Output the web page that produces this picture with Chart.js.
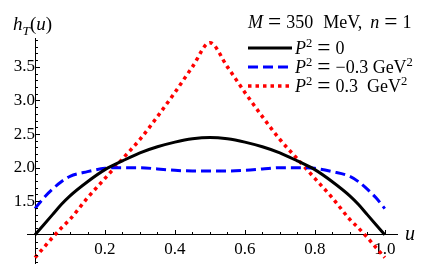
<!DOCTYPE html>
<html>
<head>
<meta charset="utf-8">
<script src="https://cdn.jsdelivr.net/npm/chart.js@4.4.1/dist/chart.umd.min.js"></script>
<style>
  html, body { margin: 0; padding: 0; background: #fff; }
  #wrap { width: 436px; height: 274px; position: relative; }
</style>
</head>
<body>
<div id="wrap"><canvas id="chart"></canvas></div>
<script>
// ========== DATA ==========

const uValues = [0, 0.025, 0.05, 0.075, 0.1, 0.15, 0.2, 0.25, 0.3, 0.35, 0.4, 0.45, 0.5,
                 0.55, 0.6, 0.65, 0.7, 0.75, 0.8, 0.85, 0.9, 0.925, 0.95, 0.975, 1];

// h_T(u) for P^2 = 0, -0.3, +0.3 GeV^2
const hP0   = [1.00, 1.15, 1.30, 1.45, 1.58, 1.79, 1.97, 2.10, 2.22, 2.31, 2.38, 2.43, 2.45,
               2.43, 2.38, 2.31, 2.22, 2.10, 1.97, 1.79, 1.58, 1.45, 1.30, 1.15, 1.00];
const hPneg = [1.39, 1.55, 1.68, 1.79, 1.87, 1.94, 1.99, 2.00, 2.00, 1.98, 1.96, 1.95, 1.95,
               1.95, 1.96, 1.98, 2.00, 2.00, 1.99, 1.94, 1.87, 1.79, 1.68, 1.55, 1.39];
const hPpos = [0.66, 0.81, 0.96, 1.10, 1.23, 1.55, 1.84, 2.13, 2.42, 2.76, 3.12, 3.50, 3.86,
               3.50, 3.12, 2.76, 2.42, 2.13, 1.84, 1.55, 1.23, 1.10, 0.96, 0.81, 0.66];

const xTickValues = [0.2, 0.4, 0.6, 0.8, 1.0];
const yTickValues = [1.5, 2.0, 2.5, 3.0, 3.5];

// text pieces: i = italic, sup/sub = small raised/lowered, eq = math equals, gap = space in px
const seriesNames = [
    [{ t: 'P', i: 1 }, { t: '2', sup: 1 }, { gap: 5 }, { eq: 1 }, { gap: 5 }, { t: '0' }],
    [{ t: 'P', i: 1 }, { t: '2', sup: 1 }, { gap: 5 }, { eq: 1 }, { gap: 5 }, { t: '\u22120.3 GeV' }, { t: '2', sup: 1 }],
    [{ t: 'P', i: 1 }, { t: '2', sup: 1 }, { gap: 5 }, { eq: 1 }, { gap: 5 }, { t: '0.3  GeV' }, { t: '2', sup: 1 }]
];
const legendTitle = [{ t: 'M', i: 1 }, { gap: 5 }, { eq: 1 }, { gap: 5 }, { t: '350' }, { gap: 10 },
                     { t: 'MeV,' }, { gap: 8 }, { t: 'n', i: 1 }, { gap: 5 }, { eq: 1 }, { gap: 5 }, { t: '1' }];
const yTitle = [{ t: 'h', i: 1 }, { t: 'T', i: 1, sub: 1 }, { t: '(' }, { t: 'u', i: 1 }, { t: ')' }];
const xTitle = [{ t: 'u', i: 1 }];

const FONT = '"Liberation Serif", "Times New Roman", serif';

// ========== HELPERS ==========

function drawRich(ctx, parts, x, y, size) {
    parts.forEach(p => {
        if (p.gap) { x += p.gap; return; }
        let s = size, dy = 0, t = p.t;
        if (p.sup) { s = size * 0.7; dy = -size * 0.4; }
        if (p.sub) { s = size * 0.7; dy = size * 0.25; }
        if (p.eq) { s = size * 1.3; dy = size * 0.07; t = '='; }
        ctx.font = (p.i ? 'italic ' : '') + s + 'px ' + FONT;
        ctx.fillText(t, x, y + dy);
        x += ctx.measureText(t).width;
    });
    return x;
}

const toPoints = arr => arr.map((v, i) => ({ x: uValues[i], y: v }));

// positioned axes should not push the plot area in
const noPad = s => { s.paddingTop = 0; s.paddingBottom = 0; s.paddingLeft = 0; s.paddingRight = 0; };

// inward ticks (major + minor), legend and axis titles
const decorPlugin = {
    id: 'decor',
    afterDraw(chart) {
        const ctx = chart.ctx;
        const xs = chart.scales.x, ys = chart.scales.y;
        const x0 = Math.round(xs.getPixelForValue(0)), y0 = Math.round(ys.getPixelForValue(1));

        ctx.save();
        ctx.strokeStyle = '#000';
        ctx.lineWidth = 1;
        ctx.beginPath();
        for (let k = 1; k <= 20; k++) {
            const len = (k % 4 === 0) ? 5 : 3;
            const px = Math.round(xs.getPixelForValue(k * 0.05)) + 0.5;
            ctx.moveTo(px, y0); ctx.lineTo(px, y0 - len);
        }
        for (let k = 6; k <= 39; k++) {
            if (k === 10) continue;
            const len = (k % 5 === 0) ? 5 : 3;
            const py = Math.round(ys.getPixelForValue(k / 10)) + 0.5;
            ctx.moveTo(x0, py); ctx.lineTo(x0 + len, py);
        }
        ctx.stroke();

        ctx.fillStyle = '#000';
        ctx.textBaseline = 'alphabetic';
        ctx.textAlign = 'left';
        drawRich(ctx, yTitle, 13, 30, 19);
        drawRich(ctx, xTitle, 405, 240, 20);

        // legend
        drawRich(ctx, legendTitle, 248, 28, 18);
        const rows = [48, 67, 86];
        chart.data.datasets.forEach((ds, i) => {
            ctx.beginPath();
            ctx.setLineDash(ds.borderDash || []);
            ctx.lineWidth = ds.borderWidth;
            ctx.strokeStyle = ds.borderColor;
            ctx.moveTo(248, rows[i]);
            ctx.lineTo(292, rows[i]);
            ctx.stroke();
            ctx.setLineDash([]);
            drawRich(ctx, seriesNames[i], 295, rows[i] + 6, 18);
        });
        ctx.restore();
    }
};

// ========== CHART ==========

new Chart(document.getElementById('chart'), {
    type: 'line',
    data: {
        datasets: [
            { data: toPoints(hP0), borderColor: '#000000', borderWidth: 3 },
            { data: toPoints(hPneg), borderColor: '#0000ff', borderWidth: 3, borderDash: [10, 5] },
            { data: toPoints(hPpos), borderColor: '#ff0000', borderWidth: 3.5, borderDash: [3.5, 4] }
        ]
    },
    options: {
        responsive: true, maintainAspectRatio: false, animation: false,
        layout: { padding: { left: 27, right: 39, top: 38, bottom: 11 } },
        elements: {
            point: { radius: 0 },
            line: { cubicInterpolationMode: 'monotone', borderCapStyle: 'butt', fill: false }
        },
        scales: {
            x: {
                type: 'linear', min: -0.023, max: 1.035, position: { y: 1 },
                grid: { display: false, drawTicks: false },
                border: { color: '#000', width: 1 },
                afterFit: noPad,
                afterBuildTicks: s => { s.ticks = xTickValues.map(v => ({ value: v })); },
                ticks: { color: '#000', padding: 5, autoSkip: false, maxRotation: 0,
                         font: { family: FONT, size: 17 }, callback: v => v.toFixed(1) }
            },
            y: {
                type: 'linear', min: 0.58, max: 3.93, position: { x: 0 },
                grid: { display: false, drawTicks: false },
                border: { color: '#000', width: 1 },
                afterFit: noPad,
                afterBuildTicks: s => { s.ticks = yTickValues.map(v => ({ value: v })); },
                ticks: { color: '#000', padding: 10, autoSkip: false,
                         font: { family: FONT, size: 17 }, callback: v => v.toFixed(1) }
            }
        },
        plugins: { legend: { display: false }, tooltip: { enabled: false } }
    },
    plugins: [decorPlugin]
});
</script>
</body>
</html>
